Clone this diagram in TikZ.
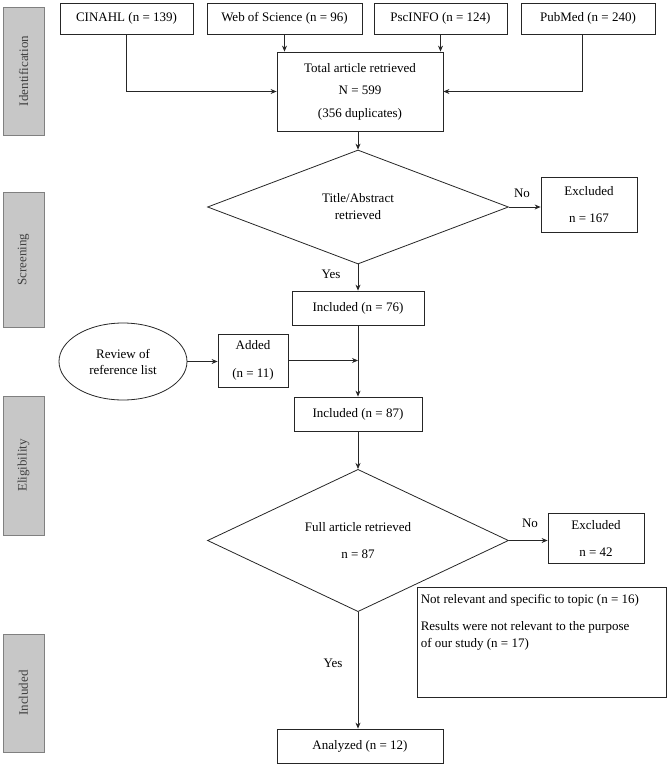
\documentclass[tikz,border=0pt]{standalone}
\usepackage{fontspec}
\setmainfont{Liberation Serif}
\usetikzlibrary{shapes.geometric,arrows.meta}
\newcommand\fsz[1]{\fontsize{13}{#1}\selectfont}
\tikzset{
 box/.style={draw=black!85, line width=0.8pt, inner sep=0pt, align=center, font=\fsz{16}},
 side/.style={draw=black!50, fill=black!22, line width=0.8pt, inner sep=0pt, font=\fsz{16}, text=black!75, rotate=90},
 arr/.style={-{Stealth[length=6pt,width=5pt]}, line width=0.8pt, draw=black!85},
 ln/.style={line width=0.8pt, draw=black!85},
 lbl/.style={font=\fsz{16}, inner sep=0pt},
 dia/.style={diamond, draw=black!85, line width=0.8pt, inner sep=0pt, align=center, minimum width=301pt, minimum height=114pt},
}
\begin{document}
\begin{tikzpicture}[x=1pt,y=-1pt]
\useasboundingbox (0,0) rectangle (668,765);
% side labels
\node[side, minimum width=128pt, minimum height=41pt] (sid) at (23.5,71) {Identification};
\node[side, minimum width=135pt, minimum height=41pt] (sscr) at (23.5,259.5) {Screening};
\node[side, minimum width=139pt, minimum height=41pt] (selig) at (23.5,465.5) {Eligibility};
\node[side, minimum width=118pt, minimum height=41pt] (sinc) at (23.5,693) {Included};
% sources
\node[box, minimum width=133pt, minimum height=31pt] (cin) at (126.5,18.5) {CINAHL (n = 139)};
\node[box, minimum width=155pt, minimum height=31pt] (wos) at (284.5,18.5) {Web of Science (n = 96)};
\node[box, minimum width=133pt, minimum height=31pt] (psc) at (440.5,18.5) {PscINFO (n = 124)};
\node[box, minimum width=134pt, minimum height=31pt] (pub) at (588,18.5) {PubMed (n = 240)};
\node[box, font=\fsz{22.5}, minimum width=166pt, minimum height=79pt] (total) at (360,91.5) {Total article retrieved\\N = 599\\(356 duplicates)};
% screening
\node[dia, font=\fsz{17}] (d1) at (358,207) {Title/Abstract\\retrieved};
\node[box, font=\fsz{27}, minimum width=96pt, minimum height=55pt] (exc1) at (589,204.5) {Excluded\\n = 167};
\node[lbl] (no1) at (522,193) {No};
\node[lbl] (yes1) at (331,274) {Yes};
\node[box, minimum width=132pt, minimum height=34pt] (inc76) at (358,308) {Included (n = 76)};
\node[ellipse, draw=black!85, line width=0.8pt, inner sep=0pt, align=center, font=\fsz{16}, minimum width=128pt, minimum height=77pt] (rev) at (123,361.5) {Review of\\reference list};
\node[box, font=\fsz{28}, minimum width=70pt, minimum height=53pt] (added) at (253,360.5) {Added\\(n = 11)};
\node[box, minimum width=128pt, minimum height=34pt] (inc87) at (358,414) {Included (n = 87)};
% eligibility
\node[dia, font=\fsz{27}, minimum height=115pt] (d2) at (358,540.5) {Full article retrieved\\n = 87};
\node[lbl] (no2) at (530,523) {No};
\node[box, font=\fsz{27}, minimum width=96pt, minimum height=50pt] (exc2) at (596,538) {Excluded\\n = 42};
\node[box, minimum width=249pt, minimum height=110pt] (notes) at (541.5,642) {};
\node[anchor=north west, inner sep=0pt, align=left, font=\fsz{17}] (notestext) at ([xshift=4pt,yshift=-8pt]notes.north west) {Not relevant and specific to topic (n = 16)\\[10pt]Results were not relevant to the purpose\\of our study (n = 17)};
\node[lbl] (yes2) at (333,663) {Yes};
\node[box, minimum width=166pt, minimum height=34pt] (anal) at (360,746) {Analyzed (n = 12)};
% connectors
\draw[arr] (cin.south) |- (total.west);
\draw[arr] (wos.south) -- (wos.south |- total.north);
\draw[arr] (psc.south) -- (psc.south |- total.north);
\draw[arr] ([xshift=-6pt]pub.south) |- (total.east);
\draw[arr] (total.south -| d1.north) -- (d1.north);
\draw[arr] (d1.east) -- (exc1.west |- d1.east);
\draw[arr] (d1.south) -- (inc76.north);
\draw[arr] (inc76.south) -- (inc87.north);
\draw[arr] (rev.east) -- (added.west |- rev.east);
\draw[arr] (added.east) -- (added.east -| inc76.south);
\draw[arr] (inc87.south) -- (d2.north);
\draw[arr] (d2.east) -- (exc2.west |- d2.east);
\draw[arr] (d2.south) -- (d2.south |- anal.north);
\end{tikzpicture}
\end{document}
